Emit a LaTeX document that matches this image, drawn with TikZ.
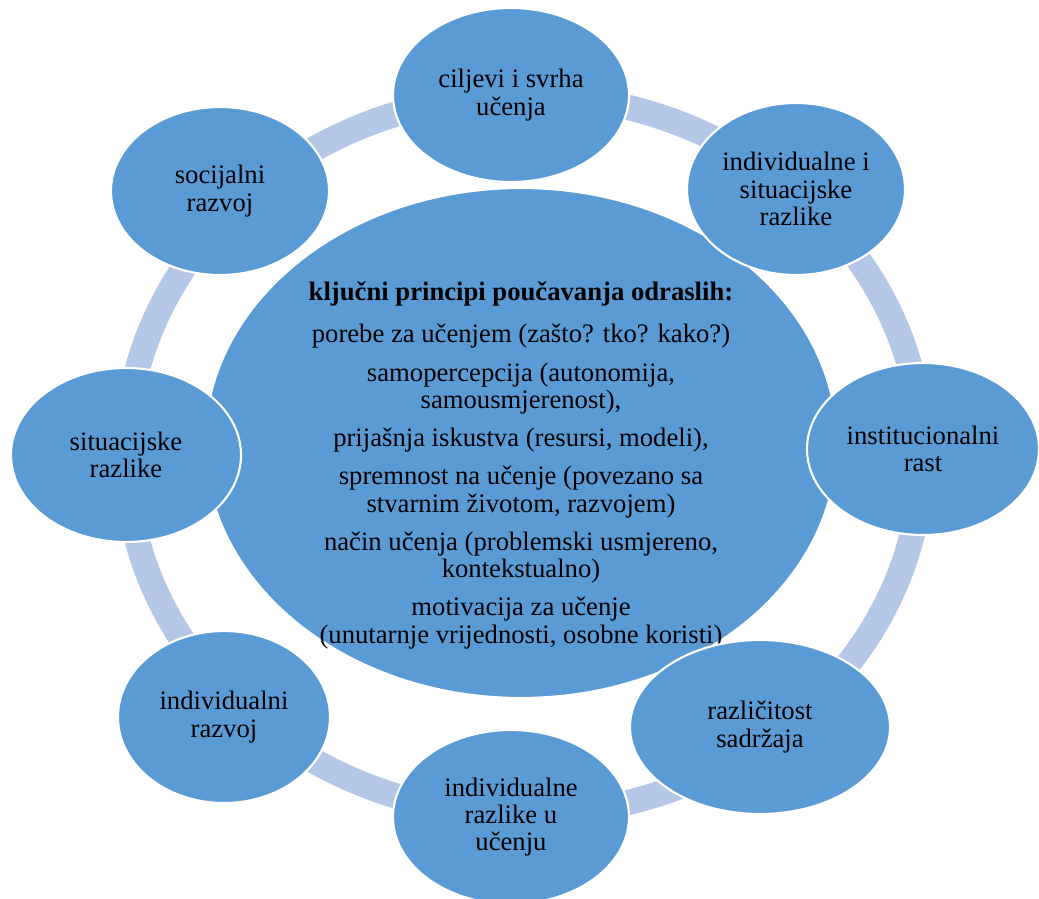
\documentclass[tikz,border=0pt]{standalone}
\usepackage{fontspec}
\setmainfont{Liberation Serif}
\usetikzlibrary{shapes.geometric}
\definecolor{nodeblue}{HTML}{5B9BD5}
\definecolor{ringblue}{HTML}{B4C7E7}
\tikzset{
  ringline/.style={draw=ringblue, line width=19pt},
  bigell/.style={ellipse, fill=nodeblue, draw=white, line width=1.6pt, inner sep=0pt},
  outer/.style={ellipse, fill=nodeblue, draw=white, line width=1.6pt, inner sep=0pt,
    align=center, font=\fontsize{20pt}{20.5pt}\selectfont, text=black},
  ctext/.style={align=center, inner sep=0pt, font=\fontsize{20pt}{20.6pt}\selectfont, text=black}
}
\begin{document}
\begin{tikzpicture}[x=0.75pt, y=-0.75pt]
\useasboundingbox (0,0) rectangle (1039,899);
% ring
\coordinate (ringc) at (524,455);
\draw[ringline] (ringc) ellipse [x radius=298.5pt, y radius=270pt];
% central ellipse
\node[bigell, minimum width=474pt, minimum height=382.5pt] (center) at (521,443) {};
\node[ctext, anchor=north] (centertext) at (521,281) {%
\textbf{ključni principi poučavanja odraslih:}\\[11.5pt]
porebe za učenjem (zašto? tko? kako?)\\[8pt]
samopercepcija (autonomija,\\
samousmjerenost),\\[8pt]
prijašnja iskustva (resursi, modeli),\\[8pt]
spremnost na učenje (povezano sa\\
stvarnim životom, razvojem)\\[8pt]
način učenja (problemski usmjereno,\\
kontekstualno)\\[8pt]
motivacija za učenje\\
(unutarnje vrijednosti, osobne koristi)};
% outer ellipses
\node[outer, minimum width=177pt, minimum height=130.5pt] (n1) at (511,95) {ciljevi i svrha\\učenja};
\node[outer, minimum width=163.5pt, minimum height=129pt] (n2) at (796,189) {individualne i\\situacijske\\razlike};
\node[outer, minimum width=174pt, minimum height=129pt] (n3) at (923,449) {institucionalni\\rast};
\node[outer, minimum width=195pt, minimum height=130.5pt] (n4) at (760,727) {različitost\\sadržaja};
\node[outer, minimum width=177pt, minimum height=130.5pt] (n5) at (511,817) {individualne\\razlike u\\učenju};
\node[outer, minimum width=159pt, minimum height=129pt] (n6) at (224,717) {individualni\\razvoj};
\node[outer, minimum width=172.5pt, minimum height=130.5pt] (n7) at (126,455) {situacijske\\razlike};
\node[outer, minimum width=163.5pt, minimum height=126pt] (n8) at (220,191) {socijalni\\razvoj};
\end{tikzpicture}
\end{document}
